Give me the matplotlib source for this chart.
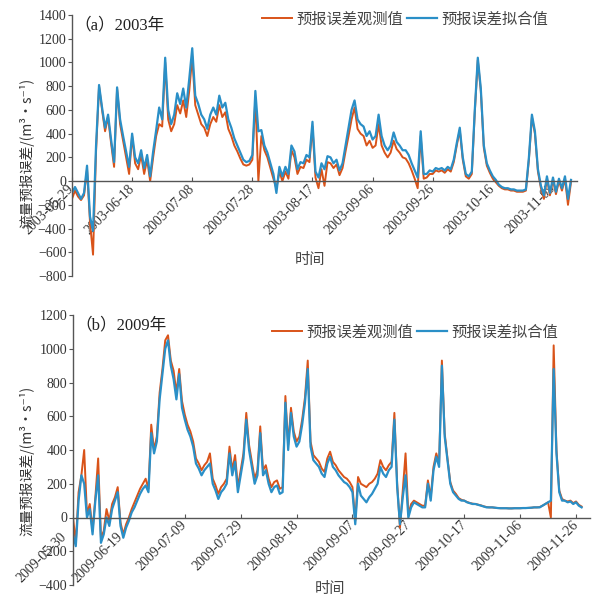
import numpy as np
import pandas as pd
import matplotlib
matplotlib.use("Agg")
import matplotlib.pyplot as plt
import matplotlib.dates as mdates
import matplotlib.transforms as mtransforms

plt.rcParams['font.family'] = ['Liberation Serif', 'Noto Sans CJK SC', 'DejaVu Sans']

CJK = ['Noto Sans CJK SC', 'DejaVu Sans']

# 2003: daily values starting 2003-05-29
obs_2003 = [
    -150, -80, -130, -160, -120, 100, -350, -620, 250, 800,
    600, 420, 540, 320, 120, 780, 480, 340, 200, 60,
    380, 150, 100, 220, 60, 180, 0, 200, 380, 480,
    460, 1000, 520, 420, 480, 640, 570, 680, 540, 760,
    1050, 640, 560, 480, 450, 380, 480, 540, 500, 640,
    540, 580, 440, 380, 300, 250, 190, 140, 130, 140,
    180, 700, 0, 380, 260, 200, 110, 20, -60, 80,
    0, 80, 20, 260, 200, 60, 120, 110, 180, 160,
    460, 30, -60, 100, -40, 160, 150, 110, 140, 50,
    110, 250, 380, 520, 620, 440, 400, 380, 300, 340,
    280, 300, 480, 300, 240, 200, 240, 340, 270, 240,
    200, 190, 150, 90, 20, -60, 380, 20, 30, 60,
    60, 90, 80, 90, 70, 100, 80, 160, 300, 430,
    180, 40, 20, 60, 580, 1020, 760, 280, 130, 70,
    20, -10, -40, -60, -70, -70, -80, -80, -90, -90,
    -90, -80, 180, 540, 400, 80, -60, -150, 20, -120,
    10, -110, 0, -80, 20, -200, -10,
]
fit_2003 = [
    -100, -50, -100, -150, -100, 130, -300, -420, 300, 810,
    620, 450, 560, 350, 160, 790, 520, 380, 250, 120,
    400, 200, 150, 260, 110, 220, 40, 250, 430, 620,
    520, 1040, 600, 480, 560, 740, 650, 780, 620, 860,
    1120, 720, 650, 560, 520, 440, 560, 620, 560, 720,
    620, 660, 520, 450, 360, 300, 240, 180, 160, 170,
    220, 760, 420, 430, 300, 240, 150, 60, -100, 120,
    40, 120, 60, 300, 250, 100, 160, 150, 220, 200,
    500, 80, 30, 150, 100, 210, 200, 150, 180, 90,
    150, 300, 450, 600, 680, 520, 480, 460, 380, 420,
    350, 380, 560, 380, 300, 260, 300, 410, 330, 300,
    260, 260, 220, 150, 90, 30, 420, 60, 60, 90,
    80, 110, 100, 110, 90, 120, 100, 180, 320, 450,
    200, 60, 40, 80, 600, 1040, 780, 300, 150, 90,
    40, 10, -30, -50, -60, -60, -70, -70, -80, -80,
    -80, -70, 200, 560, 420, 100, -40, -120, 40, -100,
    30, -90, 20, -60, 40, -150, 10,
]

# 2009: daily values starting 2009-05-30
obs_2009 = [
    0, -150, 150, 250, 400, 20, 80, -80, 120, 350,
    -120, -80, 50, -20, 80, 120, 180, -30, -100, -40,
    0, 50, 90, 130, 170, 200, 230, 170, 550, 400,
    480, 740, 880, 1050, 1080, 930, 870, 740, 880, 690,
    610, 550, 510, 450, 350, 320, 280, 310, 330, 380,
    230, 190, 140, 180, 200, 230, 420, 280, 370, 180,
    280, 380, 620, 430, 330, 230, 280, 540, 280, 310,
    230, 180, 210, 220, 170, 180, 720, 430, 650, 510,
    450, 480, 580, 710, 930, 450, 370, 350, 330, 290,
    270, 350, 390, 330, 310, 280, 260, 240, 230, 210,
    180, -20, 240, 200, 190, 180, 200, 210, 230, 260,
    340, 300, 280, 310, 330, 620, 200, -60, 160, 380,
    20, 80, 100, 90, 80, 70, 70, 220, 120, 300,
    380, 320, 930, 500, 350, 210, 160, 140, 115, 105,
    100, 92, 86, 82, 80, 76, 72, 66, 62, 60,
    60, 58, 56, 55, 55, 55, 54, 54, 55, 55,
    55, 56, 56, 57, 58, 60, 60, 62, 70, 80,
    90, 0, 1020, 400, 160, 110, 100, 95, 100, 85,
    95, 75, 65,
]
fit_2009 = [
    -100, -170, 100, 250, 200, 0, 50, -100, 100, 250,
    -150, -100, 0, -50, 50, 100, 150, -50, -120, -60,
    -20, 30, 60, 100, 140, 170, 190, 150, 500, 380,
    450, 700, 850, 1000, 1050, 900, 820, 700, 850, 650,
    580, 520, 480, 420, 320, 290, 250, 280, 300, 320,
    200, 160, 110, 150, 170, 200, 380, 250, 330, 150,
    250, 350, 580, 400, 300, 200, 250, 500, 250, 280,
    200, 150, 180, 190, 140, 150, 680, 400, 620, 480,
    420, 450, 550, 680, 880, 420, 340, 320, 300, 260,
    240, 320, 360, 300, 280, 250, 230, 210, 200, 180,
    150, -40, 200, 130, 110, 90, 120, 140, 170, 200,
    300, 260, 240, 280, 300, 580, 180, -40, 120, 250,
    0, 60, 90, 80, 70, 60, 60, 200, 100, 280,
    360, 300, 900, 480, 340, 200, 150, 130, 110, 100,
    100, 90, 85, 80, 80, 75, 70, 65, 60, 60,
    60, 58, 56, 55, 55, 55, 54, 54, 55, 55,
    55, 56, 56, 57, 58, 60, 60, 60, 70, 80,
    90, 100, 880, 380, 150, 100, 100, 90, 95, 80,
    90, 70, 60,
]

label_obs = '预报误差观测值'
label_fit = '预报误差拟合值'
ylabel = '流量预报误差/(m³·s⁻¹)'

c_obs = '#D95319'
c_fit = '#2A8FC7'
axis_c = '#555555'

W, H = 595, 596
fig = plt.figure(figsize=(W / 100, H / 100), dpi=100)


def px_axes(l, t, r, b):
    return [l / W, (H - b) / H, (r - l) / W, (b - t) / H]


def draw_panel(ax, start, obs, fit, span, ylim, title, leg_xy, xlab_xy, ylab_x, ylab_y):
    dates = pd.date_range(start, periods=len(obs), freq='D')
    ax.plot(dates, obs, color=c_obs, lw=1.4, label=label_obs)
    ax.plot(dates, fit, color=c_fit, lw=1.6, label=label_fit)

    t0 = pd.Timestamp(start)
    ax.set_xlim(t0, t0 + pd.Timedelta(days=span))
    ax.set_ylim(*ylim)
    ax.set_yticks(np.arange(ylim[0], ylim[1] + 1, 200))
    ticks = pd.date_range(start, periods=10, freq='20D')
    ticks = [t for t in ticks if t <= t0 + pd.Timedelta(days=span)]
    ax.set_xticks(ticks)
    ax.xaxis.set_major_formatter(mdates.DateFormatter('%Y-%m-%d'))

    for s in ['top', 'right']:
        ax.spines[s].set_visible(False)
    ax.spines['bottom'].set_position(('data', 0))
    for s in ['bottom', 'left']:
        ax.spines[s].set_color(axis_c)
        ax.spines[s].set_linewidth(1.0)

    ax.tick_params(axis='y', direction='out', length=3, labelsize=10, colors=axis_c, labelcolor='#333333', pad=1)
    ax.tick_params(axis='x', direction='in', length=3, labelsize=10, colors=axis_c, labelcolor='#333333', pad=4)
    for lab in ax.get_xticklabels():
        lab.set_rotation(45)
        lab.set_ha('right')
        lab.set_va('center')
        lab.set_rotation_mode('anchor')

    ax.set_ylabel(ylabel, fontsize=10, family=CJK, color='#333333')
    ax.yaxis.set_label_coords(ylab_x, ylab_y)

    ax.text(0.005, 0.99, title, transform=ax.transAxes, fontsize=12, va='top', ha='left',
            family=['Liberation Serif', 'Noto Sans CJK SC'], color='#222222')

    leg = ax.legend(loc='center', bbox_to_anchor=(leg_xy[0] / W, 1 - leg_xy[1] / H),
                    bbox_transform=fig.transFigure, ncol=2, frameon=False,
                    handlelength=2.0, handletextpad=0.3, columnspacing=0.2,
                    prop={'family': CJK, 'size': 11})
    for t in leg.get_texts():
        t.set_color('#444444')

    fig.text(xlab_xy[0] / W, 1 - xlab_xy[1] / H, '时间', fontsize=11, family=CJK,
             ha='center', va='center', color='#444444')


ax1 = fig.add_axes(px_axes(72, 15, 577, 276))
draw_panel(ax1, '2003-05-29', obs_2003, fit_2003, 168, (-800, 1400), '（a）2003年',
           (405, 19), (310, 260), -0.075, 0.47)

ax2 = fig.add_axes(px_axes(73, 315, 590, 585))
draw_panel(ax2, '2009-05-30', obs_2009, fit_2009, 185, (-400, 1200), '（b）2009年',
           (415, 332), (330, 588), -0.075, 0.46)

# first two date labels of panel (b) sit lower in the original
offset = mtransforms.ScaledTranslation(-8 / 100, -12 / 100, fig.dpi_scale_trans)
for lab in ax2.get_xticklabels()[:2]:
    lab.set_transform(lab.get_transform() + offset)

fig.savefig('out.png', dpi=100)
